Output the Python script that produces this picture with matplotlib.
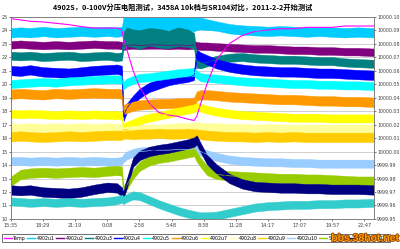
import numpy as np
import matplotlib
matplotlib.use("Agg")
import matplotlib.pyplot as plt
import matplotlib.patheffects as pe

# Elapsed minutes since 15:35 on the first day
minutes = [0, 51, 102, 170, 238, 306, 374, 442, 510, 561, 587, 595, 612, 646, 680, 731,
           782, 833, 884, 935, 969, 983, 1003, 1037, 1088, 1156, 1224, 1292, 1360, 1428,
           1496, 1564, 1632, 1700, 1768, 1836, 1921]

tick_minutes = [0, 170, 340, 510, 680, 850, 1020, 1190, 1360, 1530, 1700, 1870]
tick_labels = ["15:35", "18:29", "21:19", "0:08", "2:58", "5:48", "8:38",
               "11:28", "14:17", "17:07", "19:57", "22:47"]
left_ticks = list(range(10, 26))
right_labels = ["9999.95", "9999.96", "9999.97", "9999.98", "9999.99", "10000.00",
                "10000.01", "10000.02", "10000.03", "10000.04", "10000.05", "10000.06",
                "10000.07", "10000.08", "10000.09", "10000.10"]

temp = [24.85, 24.75, 24.65, 24.6, 24.5, 24.4, 24.25, 24.15, 24.15, 24.15, 24.0, 23.4,
        22.6, 21.0, 19.8, 18.6, 17.9, 17.7, 17.6, 17.4, 17.3, 17.6, 18.5, 20.0, 21.8,
        23.0, 23.6, 23.9, 24.0, 24.1, 24.1, 24.2, 24.2, 24.2, 24.3, 24.3, 24.3]
u1 = [23.8, 23.85, 23.8, 23.9, 23.8, 23.85, 23.9, 23.85, 23.9, 23.85, 23.9, 24.4, 24.5,
      24.55, 24.5, 24.6, 24.5, 24.55, 24.6, 24.5, 24.45, 24.5, 24.5, 24.4, 24.3, 24.1,
      24.0, 23.95, 23.9, 23.95, 23.9, 23.85, 23.9, 23.85, 23.8, 23.85, 23.8]
u2 = [22.9, 22.95, 22.9, 22.85, 22.9, 22.85, 22.9, 22.95, 22.9, 22.9, 22.85, 22.8, 22.85,
      22.9, 22.85, 22.9, 22.9, 22.85, 22.9, 22.85, 22.9, 22.85, 22.8, 22.8, 22.75, 22.7,
      22.65, 22.6, 22.6, 22.55, 22.5, 22.5, 22.45, 22.45, 22.4, 22.4, 22.35]
u3 = [22.1, 22.05, 22.1, 22.0, 22.05, 22.1, 22.0, 22.05, 22.1, 22.0, 22.05, 23.2, 23.5,
      23.4, 23.3, 23.5, 23.4, 23.3, 23.5, 23.4, 23.2, 21.6, 21.5, 21.6, 21.8, 21.95, 22.0,
      21.9, 21.85, 21.8, 21.8, 21.75, 21.7, 21.7, 21.6, 21.55, 21.5]
u4 = [21.0, 20.95, 21.05, 20.9, 20.85, 20.8, 20.9, 21.0, 21.05, 21.1, 21.0, 17.6, 18.2,
      18.8, 19.3, 19.75, 20.0, 20.25, 20.4, 20.5, 20.65, 22.2, 22.0, 21.8, 21.5, 21.25,
      21.1, 21.0, 20.95, 20.9, 20.9, 20.85, 20.8, 20.8, 20.75, 20.7, 20.65]
u5 = [20.0, 20.05, 20.1, 20.15, 20.1, 20.2, 20.25, 20.3, 20.35, 20.35, 20.3, 19.9, 20.1,
      20.3, 20.45, 20.5, 20.6, 20.7, 20.8, 20.85, 20.9, 20.7, 20.5, 20.45, 20.4, 20.3,
      20.2, 20.15, 20.1, 20.05, 20.0, 20.0, 19.95, 19.95, 19.9, 19.9, 19.85]
u6 = [19.25, 19.3, 19.25, 19.2, 19.3, 19.25, 19.3, 19.35, 19.3, 19.3, 19.25, 18.1, 18.2,
      18.35, 18.45, 18.5, 18.55, 18.55, 18.6, 18.6, 18.65, 19.1, 19.2, 19.2, 19.15, 19.05,
      19.0, 18.95, 18.9, 18.85, 18.85, 18.8, 18.75, 18.75, 18.7, 18.7, 18.65]
u7 = [17.8, 17.75, 17.8, 17.75, 17.7, 17.75, 17.7, 17.75, 17.7, 17.7, 17.65, 16.8, 16.9,
      17.1, 17.3, 17.5, 17.65, 17.8, 17.95, 18.1, 18.2, 18.3, 18.25, 18.1, 17.95, 17.8,
      17.7, 17.65, 17.6, 17.55, 17.5, 17.5, 17.5, 17.45, 17.45, 17.45, 17.45]
u8 = [16.8, 16.75, 16.8, 16.75, 16.8, 16.75, 16.8, 16.75, 16.8, 16.75, 16.7, 16.5, 16.55,
      16.6, 16.65, 16.7, 16.7, 16.75, 16.8, 16.8, 16.85, 16.85, 16.85, 16.8, 16.8, 16.75,
      16.75, 16.7, 16.75, 16.7, 16.7, 16.7, 16.7, 16.7, 16.7, 16.7, 16.7]
u9 = [16.1, 16.15, 16.1, 16.05, 16.1, 16.15, 16.1, 16.15, 16.2, 16.2, 16.2, 16.3, 16.3,
      16.25, 16.3, 16.3, 16.35, 16.3, 16.3, 16.35, 16.3, 16.3, 16.25, 16.2, 16.15, 16.1,
      16.1, 16.05, 16.1, 16.05, 16.1, 16.05, 16.05, 16.05, 16.05, 16.05, 16.05]
u10 = [14.3, 14.3, 14.25, 14.3, 14.25, 14.3, 14.25, 14.3, 14.25, 14.25, 14.3, 14.5, 14.7,
       14.9, 15.0, 15.05, 15.1, 15.1, 15.15, 15.15, 15.2, 15.1, 15.0, 14.8, 14.6, 14.4,
       14.3, 14.25, 14.2, 14.2, 14.15, 14.15, 14.1, 14.1, 14.1, 14.1, 14.1]
sr104 = [12.8, 13.3, 13.4, 13.45, 13.4, 13.45, 13.5, 13.45, 13.55, 13.6, 13.55, 12.1, 12.5,
         13.3, 13.9, 14.3, 14.5, 14.6, 14.75, 14.9, 15.0, 14.6, 14.2, 13.6, 13.3, 13.2,
         13.15, 13.1, 13.05, 13.0, 13.0, 12.95, 12.95, 12.9, 12.85, 12.8, 12.8]
navy = [12.15, 12.1, 12.15, 12.0, 11.95, 11.9, 12.0, 12.2, 12.35, 12.3, 12.0, 11.8, 12.6,
        14.2, 14.7, 15.0, 15.15, 15.25, 15.4, 15.55, 15.7, 15.85, 15.3, 14.4, 13.7, 13.0,
        12.6, 12.4, 12.35, 12.3, 12.3, 12.25, 12.25, 12.2, 12.2, 12.2, 12.15]
turq = [11.3, 11.25, 11.2, 11.25, 11.2, 11.25, 11.2, 11.25, 11.3, 11.4, 11.5, 11.4, 11.55,
        11.75, 11.7, 11.4, 11.1, 10.85, 10.6, 10.4, 10.3, 10.25, 10.2, 10.2, 10.25, 10.45,
        10.65, 10.85, 10.95, 11.0, 11.05, 11.05, 11.1, 11.1, 11.15, 11.15, 11.2]

# half-width of the noise band around each trace
u1_spread = [0.35, 0.35, 0.35, 0.35, 0.35, 0.35, 0.35, 0.35, 0.35, 0.35, 0.35, 0.55, 0.55,
             0.55, 0.55, 0.55, 0.55, 0.55, 0.55, 0.55, 0.55, 0.5, 0.45, 0.4, 0.35, 0.35,
             0.35, 0.35, 0.35, 0.35, 0.35, 0.35, 0.35, 0.35, 0.35, 0.35, 0.35]
u3_spread = [0.3, 0.3, 0.3, 0.3, 0.3, 0.3, 0.3, 0.3, 0.3, 0.3, 0.3, 0.65, 0.7, 0.65, 0.7,
             0.65, 0.7, 0.65, 0.7, 0.65, 0.6, 0.4, 0.35, 0.3, 0.3, 0.3, 0.3, 0.3, 0.3, 0.3,
             0.3, 0.3, 0.3, 0.3, 0.3, 0.3, 0.3]

series = [
    ("Temp", temp, "#FF00FF", 0.04),
    ("4902u1", u1, "#00CCFF", u1_spread),
    ("4902u2", u2, "#800080", 0.28),
    ("4902u3", u3, "#008080", u3_spread),
    ("4902u4", u4, "#0000FF", 0.35),
    ("4902u5", u5, "#00FFFF", 0.3),
    ("4902u6", u6, "#FF9900", 0.35),
    ("4902u7", u7, "#FFFF00", 0.3),
    ("4902u8", u8, "#FFFF99", 0.3),
    ("4902u9", u9, "#FFCC00", 0.35),
    ("4902u10", u10, "#99CCFF", 0.3),
    ("SR104", sr104, "#99CC00", 0.35),
    ("3458A", navy, "#000080", 0.35),
    ("Diff", turq, "#33CCCC", 0.3),
]

fig = plt.figure(figsize=(4.0, 2.49), dpi=100)
ax = fig.add_axes([0.0275, 0.1205, 0.9075, 0.813])

x = np.array(minutes, dtype=float)
handles = []
for name, vals, color, spread in series:
    v = np.array(vals)
    s = np.broadcast_to(np.array(spread, dtype=float), v.shape)
    if name != "Temp":
        ax.fill_between(x, v - s, v + s, color=color, lw=0.3, edgecolor=color)
    (ln,) = ax.plot(x, v, color=color, lw=0.8 if name == "Temp" else 0.5, label=name)
    handles.append(ln)

ax.set_xlim(0, 1921)
ax.set_ylim(10, 25)
ax.set_yticks(left_ticks)
ax.set_xticks(tick_minutes)
ax.set_xticklabels(tick_labels)
ax.yaxis.grid(True, color="#c8c8c8", lw=0.6)
ax.set_axisbelow(True)
ax.tick_params(labelsize=3.6, length=1.2, width=0.5, pad=1, colors="#404040")
ax.tick_params(axis="x", pad=2)
for sp in ax.spines.values():
    sp.set_color("#808080")
    sp.set_linewidth(0.6)

ax2 = ax.twinx()
ax2.set_ylim(10, 25)
ax2.set_yticks(left_ticks)
ax2.set_yticklabels(right_labels)
ax2.tick_params(labelsize=3.4, length=1.2, width=0.5, pad=1, colors="#404040")
for sp in ax2.spines.values():
    sp.set_color("#808080")
    sp.set_linewidth(0.6)

fig.text(0.4575, 0.972, "4902S，0-100V分压电阻测试，3458A 10k档与SR104对比，2011-2-2开始测试",
         ha="center", va="center", fontsize=5.2, fontweight="bold",
         family=["Noto Sans CJK SC", "DejaVu Sans"])

leg = fig.legend(handles=handles, loc="center left", bbox_to_anchor=(0.006, 0.044),
                 ncol=14, fontsize=3.4, handlelength=1.7, handletextpad=0.25,
                 columnspacing=0.35, borderpad=0.3, borderaxespad=0.0,
                 frameon=True, fancybox=False)
leg.get_frame().set_edgecolor("black")
leg.get_frame().set_linewidth(0.5)
for lh in leg.get_lines():
    lh.set_linewidth(1.0)

fig.text(0.913, 0.044, "bbs.38hot.net", ha="center", va="center", fontsize=7.5,
         fontweight="bold", color="#FF9900", family=["Liberation Sans", "DejaVu Sans"],
         zorder=10,
         path_effects=[pe.withStroke(linewidth=1.2, foreground="#8B4500")])

fig.savefig("out.png", dpi=100)
